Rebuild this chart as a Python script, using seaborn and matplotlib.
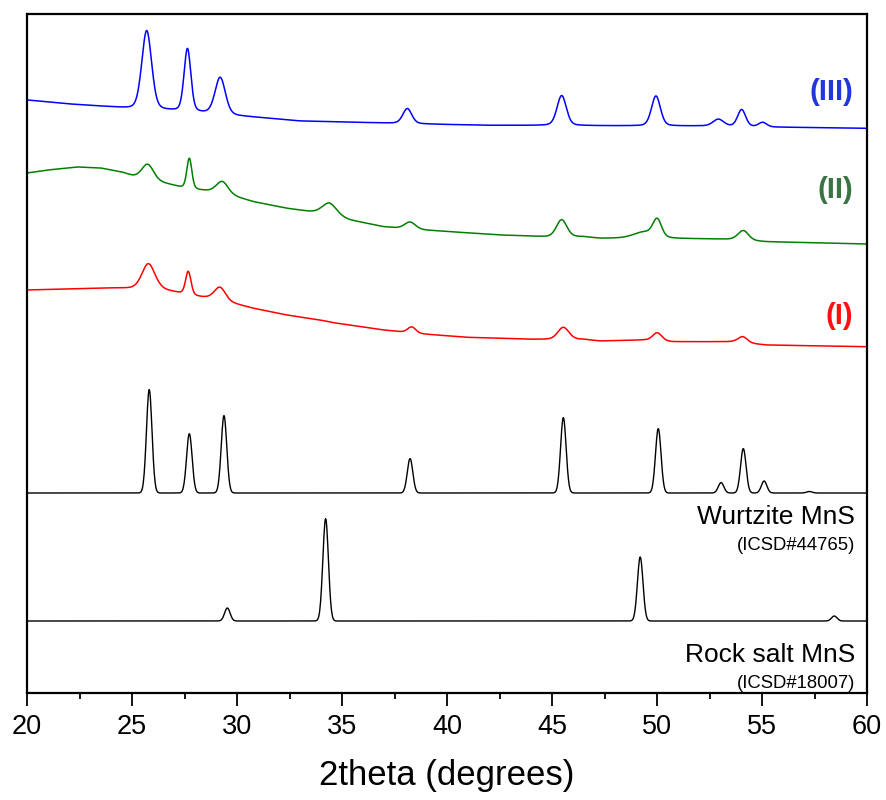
import numpy as np
import pandas as pd
import matplotlib
matplotlib.use("Agg")
import matplotlib.pyplot as plt
import seaborn as sns
from matplotlib.ticker import MultipleLocator

# ---------------- data ----------------
# Sample (III) - blue: background points and peak table
bg3_x = [20, 22, 24, 25, 26.9, 28.3, 30, 31, 33, 35, 37, 40, 42, 45, 47, 50, 52, 55, 57, 60]
bg3_y = [593, 589, 586, 584, 582, 580, 577, 575.5, 572, 571, 570, 568.5, 567.7, 567.5, 567.3, 567, 567, 566, 565.5, 564.7]
pk3_pos = [25.70, 27.64, 29.20, 38.11, 45.46, 49.95, 52.92, 54.03, 55.03]
pk3_h = [79, 63, 37, 15, 30, 30, 7, 17, 4.5]
pk3_w = [0.55, 0.38, 0.58, 0.50, 0.52, 0.50, 0.60, 0.45, 0.45]

# Sample (II) - green
bg2_x = [20, 21, 22.4, 23.5, 24.5, 25.06, 26.33, 27.3, 28.24, 28.87, 29.83, 30.78, 32.37, 33.63,
         34.4, 35.38, 36.97, 38.24, 40.14, 42.52, 44.75, 46.49, 47.29, 49.35, 50.62, 53.63, 55.22, 60]
bg2_y = [520, 523, 526, 525, 521, 517, 511, 506, 503, 501.5, 497, 491.3, 484.7, 481,
         479, 473, 466.3, 464, 461.3, 458, 456.3, 456.3, 454.7, 455, 454.7, 453.7, 451.3, 449]
pk2_pos = [25.75, 27.73, 29.30, 34.40, 38.24, 45.46, 49.40, 50.01, 54.11]
pk2_h = [15, 30, 12, 11, 7, 17, 6, 17, 9.5]
pk2_w = [0.65, 0.28, 0.65, 0.80, 0.60, 0.58, 1.20, 0.48, 0.58]

# Sample (I) - red
bg1_x = [20, 22, 24, 25.06, 26.33, 27.29, 28.24, 28.71, 29.83, 30.78, 32.37, 33.95, 34.59, 36.97,
         38.87, 40.94, 44.11, 46.49, 47.29, 49.35, 50.78, 53.63, 55.22, 60]
bg1_y = [403, 404, 405, 404.7, 404, 400, 396.3, 395, 389.7, 384.7, 378, 373, 370.3, 363,
         359, 355.7, 353.7, 353.7, 352, 353, 351.3, 351.3, 348, 346.3]
pk1_pos = [25.78, 27.68, 29.19, 38.32, 45.54, 50.01, 54.08]
pk1_h = [25, 23, 13, 6, 12, 8, 6]
pk1_w = [0.72, 0.30, 0.62, 0.45, 0.62, 0.52, 0.52]

# Reference patterns
wz_base = 200
wz_pos = [25.82, 27.73, 29.38, 38.24, 45.54, 50.06, 53.05, 54.11, 55.10, 57.25]
wz_h = [103.4, 59.4, 77.4, 34.4, 75.4, 64.4, 10.4, 44.4, 12.0, 1.5]
rs_base = 72
rs_pos = [29.54, 34.22, 49.20, 58.44]
rs_h = [13, 102.3, 64, 5]
ref_fwhm = 0.31

labels = ["(III)", "(II)", "(I)"]
label_colors = ["#2236dd", "#3a7444", "#ff1010"]
label_y = [601, 503, 377]
curve_colors = ["#0000ff", "#008000", "#ff0000"]

xticks = [20, 25, 30, 35, 40, 45, 50, 55, 60]

# ---------------- build curves ----------------
x = np.round(np.arange(20, 60.0001, 0.02), 4)


def pvoigt(x, pos, h, w, eta):
    out = np.zeros_like(x)
    for p, hh, ww in zip(pos, h, w):
        g = np.exp(-4 * np.log(2) * ((x - p) / ww) ** 2)
        l = 1.0 / (1.0 + 4 * ((x - p) / ww) ** 2)
        out += hh * ((1 - eta) * g + eta * l)
    return out


y3 = np.interp(x, bg3_x, bg3_y) + pvoigt(x, pk3_pos, pk3_h, pk3_w, 0.25)
y2 = np.interp(x, bg2_x, bg2_y) + pvoigt(x, pk2_pos, pk2_h, pk2_w, 0.2)
y1 = np.interp(x, bg1_x, bg1_y) + pvoigt(x, pk1_pos, pk1_h, pk1_w, 0.2)
ywz = wz_base + pvoigt(x, wz_pos, wz_h, [ref_fwhm] * len(wz_pos), 0.0)
yrs = rs_base + pvoigt(x, rs_pos, rs_h, [ref_fwhm] * len(rs_pos), 0.0)

df = pd.concat([
    pd.DataFrame({"x": x, "y": y3, "s": "III"}),
    pd.DataFrame({"x": x, "y": y2, "s": "II"}),
    pd.DataFrame({"x": x, "y": y1, "s": "I"}),
    pd.DataFrame({"x": x, "y": ywz, "s": "wz"}),
    pd.DataFrame({"x": x, "y": yrs, "s": "rs"}),
])

# ---------------- plot ----------------
sns.set_theme(style="ticks")
plt.rcParams["font.family"] = ["Liberation Sans", "DejaVu Sans"]

fig = plt.figure(figsize=(8.86, 8.0), dpi=100)
ax = fig.add_axes([27 / 886, 107 / 800, 840 / 886, 679 / 800])

palette = {"III": curve_colors[0], "II": curve_colors[1], "I": curve_colors[2], "wz": "black", "rs": "black"}
for key, lw in [("III", 1.1), ("II", 1.1), ("I", 1.1), ("wz", 1.0), ("rs", 1.0)]:
    sub = df[df["s"] == key]
    sns.lineplot(data=sub, x="x", y="y", ax=ax, color=palette[key], linewidth=lw,
                 estimator=None, sort=False, legend=False)

ax.set_xlim(20, 60)
ax.set_ylim(0, 679)
ax.set_yticks([])
ax.set_ylabel("")
ax.set_xticks(xticks)
ax.set_xticklabels([str(t) for t in xticks])
ax.xaxis.set_minor_locator(MultipleLocator(2.5))
ax.tick_params(axis="x", which="major", direction="out", length=9, width=1.3,
               labelsize=19.5, pad=6, color="black", labelcolor="black")
ax.tick_params(axis="x", which="minor", direction="out", length=4.5, width=1.3, color="black")
for sp in ax.spines.values():
    sp.set_visible(True)
    sp.set_linewidth(1.6)
    sp.set_color("black")
ax.set_xlabel("2theta (degrees)", fontsize=25, labelpad=14, color="black")

for lab, c, yy in zip(labels, label_colors, label_y):
    ax.text(59.33, yy, lab, color=c, fontsize=21, fontweight="bold", ha="right", va="center")

ax.text(59.43, 176, "Wurtzite MnS", fontsize=19, ha="right", va="center", color="black")
ax.text(59.43, 147, "(ICSD#44765)", fontsize=13.3, ha="right", va="center", color="black")
ax.text(59.43, 38, "Rock salt MnS", fontsize=19, ha="right", va="center", color="black")
ax.text(59.43, 10, "(ICSD#18007)", fontsize=13.3, ha="right", va="center", color="black")

fig.savefig("out.png", dpi=100, facecolor="white")
